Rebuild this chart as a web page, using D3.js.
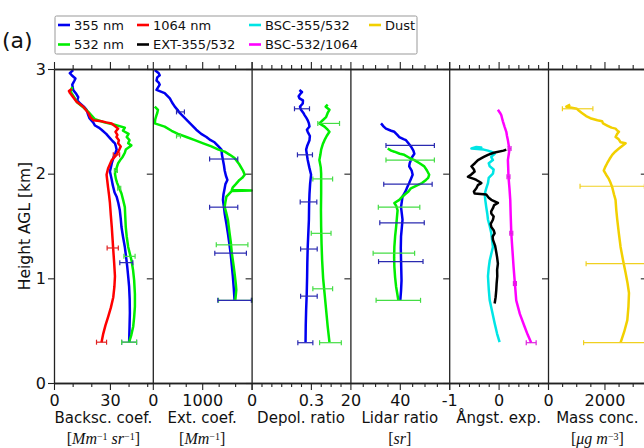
<!DOCTYPE html>
<html><head><meta charset="utf-8">
<script src="https://cdn.jsdelivr.net/npm/d3@7"></script>
<style>body{margin:0;background:#fff} svg{display:block}</style>
</head><body><svg id="c" width="644" height="448"></svg>
<script>
// ---------------- DATA: [height km, value] ----------------
const bsc355 = [[2.99,10.3],[2.96,8.5],[2.94,9.5],[2.91,11.5],[2.89,11],[2.85,9.8],[2.8,10.3],[2.76,12],[2.73,13],[2.70,12.5],[2.67,14],[2.64,16],[2.61,17.5],[2.57,18.2],[2.53,19],[2.49,21],[2.46,22],[2.44,24],[2.42,25.5],[2.38,28],[2.34,30],[2.31,31.5],[2.29,32.7],[2.26,33.2],[2.23,33.6],[2.2,33],[2.16,32],[2.13,31.5],[2.1,31],[2.06,30.5],[2.02,30],[1.98,30.5],[1.94,31],[1.9,31.4],[1.87,31.8],[1.82,32.5],[1.78,33.6],[1.72,34.5],[1.65,35.3],[1.57,35.8],[1.49,36.2],[1.4,37],[1.3,38],[1.2,38.7],[1.11,39.3],[1.0,39.9],[0.92,40.3],[0.8,40.6],[0.67,40.7],[0.52,40.5],[0.39,40.3]];
const bsc532 = [[2.83,9.8],[2.78,9],[2.73,10.8],[2.68,12.5],[2.63,16],[2.58,19],[2.52,22],[2.49,27],[2.47,32],[2.44,38],[2.41,37],[2.38,40],[2.35,39],[2.32,40.5],[2.29,39.8],[2.27,41.5],[2.25,40],[2.23,38.5],[2.2,38],[2.16,36.8],[2.13,35.5],[2.1,34.4],[2.05,33.5],[2.0,32.7],[1.95,33.2],[1.91,33.9],[1.86,35],[1.81,36.2],[1.74,37.2],[1.68,38],[1.6,38.2],[1.49,38.5],[1.4,39],[1.3,39.8],[1.17,41.6],[1.08,42.4],[0.98,43],[0.85,43.4],[0.73,43.4],[0.63,43],[0.54,42.5],[0.46,41.5],[0.39,40.3]];
const bsc1064 = [[2.81,9.5],[2.79,8],[2.77,8.6],[2.75,9.5],[2.73,10.3],[2.69,12],[2.64,15.7],[2.58,18.4],[2.54,19.5],[2.51,21],[2.5,25.5],[2.49,28],[2.48,30.9],[2.45,33],[2.43,34.4],[2.4,33],[2.37,34],[2.35,33.5],[2.32,34.8],[2.29,34.4],[2.26,35.8],[2.24,35.3],[2.21,34.5],[2.18,33.5],[2.13,31],[2.09,30],[2.05,29],[1.99,28.2],[1.93,28.6],[1.87,29],[1.8,29.5],[1.72,30],[1.6,30.5],[1.49,31],[1.38,31.4],[1.27,31.8],[1.14,32.3],[1.02,32.7],[0.92,32.4],[0.82,31.8],[0.72,30.5],[0.63,29],[0.55,27.6],[0.47,26.4],[0.39,25.5]];
// error bars: [height, centre, half-width]
const bscErr355 = [[1.15,38.8,3.5],[0.39,40.3,4]];
const bscErr532 = [[2.03,33.2,0.8],[1.86,35,0.8],[1.21,40.5,3],[0.39,40.3,4]];
const bscErr1064 = [[2.18,33.5,1.7],[1.29,31.5,3],[0.39,25.5,2.7]];

const ext355 = [[2.99,40],[2.96,120],[2.94,140],[2.92,90],[2.89,75],[2.87,120],[2.85,140],[2.82,100],[2.8,75],[2.77,240],[2.72,345],[2.68,390],[2.64,445],[2.61,500],[2.58,545],[2.54,630],[2.5,715],[2.46,800],[2.42,880],[2.38,980],[2.35,1085],[2.32,1170],[2.3,1250],[2.26,1330],[2.23,1390],[2.18,1400],[2.13,1420],[2.08,1440],[2.03,1455],[1.98,1480],[1.94,1510],[1.9,1470],[1.86,1455],[1.8,1430],[1.75,1420],[1.68,1440],[1.62,1455],[1.52,1490],[1.43,1520],[1.33,1550],[1.24,1575],[1.12,1600],[1.02,1620],[0.9,1640],[0.79,1655]];
const ext532 = [[2.64,40],[2.61,105],[2.58,90],[2.56,75],[2.52,50],[2.48,40],[2.45,240],[2.41,380],[2.38,510],[2.35,680],[2.32,850],[2.29,1020],[2.26,1185],[2.23,1330],[2.21,1455],[2.18,1560],[2.15,1655],[2.09,1750],[2.03,1825],[1.99,1860],[1.96,1810],[1.94,1755],[1.9,1680],[1.87,1620],[1.845,1600],[1.84,2000],[1.835,1600],[1.8,1530],[1.78,1490],[1.73,1470],[1.68,1455],[1.62,1490],[1.56,1520],[1.43,1555],[1.34,1580],[1.24,1600],[1.14,1630],[1.05,1655],[0.95,1680],[0.89,1690],[0.79,1670]];
const extErr355 = [[2.59,560,80],[2.14,1435,285],[1.68,1435,285],[1.24,1575,320],[0.79,1655,340]];
const extErr532 = [[2.36,520,40],[1.32,1605,320],[0.79,1670,340]];

const depol355 = [[2.8,0.242],[2.78,0.255],[2.77,0.25],[2.74,0.238],[2.72,0.242],[2.7,0.26],[2.67,0.259],[2.64,0.245],[2.61,0.25],[2.58,0.262],[2.56,0.268],[2.53,0.278],[2.51,0.284],[2.48,0.29],[2.45,0.293],[2.42,0.28],[2.4,0.284],[2.36,0.295],[2.32,0.293],[2.27,0.282],[2.23,0.276],[2.18,0.28],[2.13,0.284],[2.06,0.292],[1.99,0.301],[1.9,0.296],[1.81,0.293],[1.7,0.291],[1.56,0.29],[1.43,0.287],[1.3,0.284],[1.15,0.282],[1.02,0.281],[0.85,0.279],[0.7,0.276],[0.55,0.274],[0.39,0.273]];
const depol532 = [[2.66,0.385],[2.64,0.375],[2.61,0.394],[2.58,0.385],[2.54,0.377],[2.51,0.36],[2.48,0.343],[2.45,0.369],[2.42,0.385],[2.4,0.394],[2.36,0.38],[2.32,0.369],[2.28,0.36],[2.23,0.352],[2.18,0.348],[2.13,0.343],[2.06,0.35],[2.0,0.352],[1.9,0.352],[1.81,0.352],[1.65,0.351],[1.49,0.352],[1.33,0.354],[1.17,0.357],[1.0,0.362],[0.86,0.369],[0.7,0.377],[0.54,0.385],[0.39,0.394]];
const depolErr355 = [[2.62,0.255,0.038],[2.18,0.27,0.038],[1.73,0.288,0.042],[1.28,0.29,0.042],[0.83,0.29,0.042],[0.385,0.272,0.038]];
const depolErr532 = [[2.48,0.39,0.055],[1.95,0.36,0.05],[1.43,0.352,0.05],[0.9,0.36,0.05],[0.385,0.399,0.055]];

const lidar355 = [[2.48,32.4],[2.45,33.5],[2.43,34.4],[2.41,36.5],[2.4,37.8],[2.37,39],[2.35,39.8],[2.33,41.5],[2.32,42.5],[2.29,43.5],[2.26,44.5],[2.22,45.5],[2.19,45.9],[2.16,45],[2.13,44.5],[2.1,44],[2.07,43.8],[2.03,44.8],[1.99,45.2],[1.95,44.5],[1.91,43.8],[1.87,43],[1.84,42.5],[1.81,41.8],[1.78,41.1],[1.73,40.8],[1.68,40.5],[1.62,40.8],[1.56,41.1],[1.48,40.8],[1.4,40.5],[1.29,40.4],[1.18,40.5],[1.08,40.6],[0.98,40.7],[0.88,40.5],[0.79,40.2]];
const lidar532 = [[2.24,35.1],[2.22,36.5],[2.21,37.8],[2.19,40],[2.18,41.8],[2.15,44],[2.13,45.9],[2.1,48],[2.07,49.9],[2.03,51],[1.99,51.9],[1.96,51.5],[1.94,50.6],[1.91,49],[1.89,47.2],[1.86,44.5],[1.83,43.5],[1.81,42.5],[1.78,41],[1.75,39.8],[1.72,37.8],[1.69,38.6],[1.65,39.1],[1.57,38.8],[1.49,38.5],[1.4,38.1],[1.3,37.8],[1.2,37.7],[1.11,37.8],[1.01,38.1],[0.92,38.5],[0.85,39],[0.79,39.4]];
const lidarErr355 = [[2.27,44.2,9.8],[1.9,43.3,9.8],[1.53,40.9,9],[1.16,40.4,9]];
const lidarErr532 = [[2.13,44.2,9.8],[1.68,39.7,8.4],[1.24,37.6,8.4],[0.79,39.4,9]];

const angExt = [[2.23,0.156],[2.22,0.1],[2.2,-0.1],[2.18,-0.215],[2.16,-0.3],[2.13,-0.418],[2.1,-0.48],[2.07,-0.55],[2.04,-0.5],[2.02,-0.485],[1.99,-0.56],[1.97,-0.62],[1.95,-0.5],[1.94,-0.45],[1.92,-0.38],[1.91,-0.35],[1.89,-0.42],[1.86,-0.45],[1.83,-0.5],[1.81,-0.485],[1.8,-0.25],[1.77,-0.2],[1.75,-0.148],[1.73,-0.06],[1.72,-0.014],[1.7,-0.09],[1.67,-0.115],[1.64,-0.15],[1.62,-0.148],[1.59,-0.1],[1.56,-0.115],[1.52,-0.16],[1.49,-0.148],[1.46,-0.1],[1.43,-0.08],[1.4,-0.12],[1.37,-0.115],[1.31,-0.07],[1.25,-0.047],[1.2,-0.03],[1.14,-0.014],[1.08,-0.03],[1.02,-0.027],[0.95,-0.04],[0.89,-0.047],[0.82,-0.06],[0.76,-0.08]];
const angBsc355 = [[2.24,-0.52],[2.245,-0.4],[2.25,-0.35],[2.255,-0.45],[2.24,-0.55],[2.23,-0.3],[2.22,-0.215],[2.21,-0.15],[2.19,-0.08],[2.16,-0.15],[2.13,-0.115],[2.1,-0.2],[2.07,-0.18],[2.04,-0.1],[2.0,-0.115],[1.96,-0.2],[1.91,-0.215],[1.86,-0.25],[1.81,-0.28],[1.75,-0.27],[1.68,-0.25],[1.62,-0.23],[1.56,-0.215],[1.5,-0.18],[1.43,-0.148],[1.36,-0.13],[1.3,-0.115],[1.23,-0.15],[1.17,-0.18],[1.1,-0.2],[1.02,-0.215],[0.9,-0.2],[0.79,-0.18],[0.68,-0.13],[0.57,-0.08],[0.47,-0.03],[0.39,0.02]];
const angBsc532 = [[2.61,-0.014],[2.58,0.03],[2.56,0.054],[2.53,0.07],[2.5,0.087],[2.45,0.12],[2.4,0.156],[2.36,0.17],[2.32,0.188],[2.27,0.205],[2.24,0.222],[2.2,0.21],[2.13,0.188],[2.05,0.195],[1.97,0.2],[1.86,0.22],[1.75,0.236],[1.6,0.245],[1.43,0.257],[1.27,0.28],[1.11,0.303],[0.95,0.33],[0.79,0.357],[0.66,0.43],[0.54,0.525],[0.46,0.59],[0.385,0.66]];
const angErr532 = [[2.24,0.222,0.03],[1.97,0.2,0.03],[1.43,0.257,0.03],[0.95,0.33,0.03],[0.385,0.66,0.1]];

const dust = [[2.66,786],[2.64,650],[2.62,1025],[2.6,1100],[2.58,1200],[2.55,1350],[2.53,1500],[2.51,1750],[2.5,1918],[2.48,1950],[2.46,2096],[2.44,2250],[2.43,2393],[2.41,2460],[2.4,2512],[2.38,2450],[2.35,2393],[2.33,2500],[2.3,2571],[2.29,2750],[2.27,2650],[2.24,2512],[2.21,2380],[2.18,2275],[2.14,2180],[2.1,2096],[2.06,2020],[2.03,1976],[1.99,2060],[1.95,2155],[1.91,2220],[1.87,2275],[1.8,2340],[1.75,2393],[1.65,2420],[1.56,2453],[1.43,2510],[1.3,2571],[1.17,2660],[1.05,2750],[0.95,2820],[0.86,2869],[0.73,2850],[0.6,2810],[0.49,2700],[0.385,2571]];
const dustErr = [[2.62,1050,540],[1.88,2275,1140],[1.14,2700,1350],[0.385,2571,1310]];

// tick values / labels
const yTicks = [0,1,2,3];
const xMajor = [[0,30],[0,1000,2000],[0,0.3],[20,40,60],[-1,0,1],[0,2000]];
const xMinor = [[10,20,40,50],[333.3,666.7,1333.3,1666.7],[0.05,0.1,0.15,0.2,0.25,0.35,0.4,0.45],[25,30,35,45,50,55],[-0.8,-0.6,-0.4,-0.2,0.2,0.4,0.6,0.8],[500,1000,1500,2500,3000]];
const xLabels = [["0","30"],["0","1000"],["0","0.3"],["20","40"],["-1","0"],["0","2000"]];
const xDomains = [[0,53],[0,2000],[0,0.5],[20,60],[-1,1],[0,3500]];
const xTitles = ["Backsc. coef.","Ext. coef.","Depol. ratio","Lidar ratio","Ångst. exp.","Mass conc."];

// ---------------- LAYOUT ----------------
const svg = d3.select('#c');
const L0 = 54, W = 98.8, yTop = 69, yBot = 383;
const y = d3.scaleLinear().domain([0,3]).range([yBot, yTop]);
const C = {b:'#0000f0', g:'#00ee00', r:'#ff0000', k:'#000000', c:'#00e5e5', m:'#ff00ff', d:'#f2d000'};
const CE = {b:'#2a2ab0', g:'#44dd44', r:'#e02020', m:'#dd22dd', d:'#f0d020'};

const panels = [
  {lines:[[bsc355,C.b],[bsc532,C.g],[bsc1064,C.r]], errs:[[bscErr355,CE.b],[bscErr532,CE.g],[bscErr1064,CE.r]],
   unit:[["[",0],["Mm",1],["−1",2],[" sr",1],["−1",2],["]",0]]},
  {lines:[[ext355,C.b],[ext532,C.g]], errs:[[extErr532,CE.g],[extErr355,CE.b]], unit:[["[",0],["Mm",1],["−1",2],["]",0]]},
  {lines:[[depol355,C.b],[depol532,C.g]], errs:[[depolErr355,CE.b],[depolErr532,CE.g]], unit:null},
  {lines:[[lidar355,C.b],[lidar532,C.g]], errs:[[lidarErr355,CE.b],[lidarErr532,CE.g]], unit:[["[",0],["sr",1],["]",0]]},
  {lines:[[angBsc355,C.c],[angExt,C.k],[angBsc532,C.m]], errs:[[angErr532,CE.m]], unit:null},
  {lines:[[dust,C.d]], errs:[[dustErr,CE.d]], unit:[["[",0],["μg m",1],["−3",2],["]",0]]}
];

const axisCol = '#222';
function styleAxis(g){
  g.selectAll('path.domain').attr('stroke', axisCol).attr('stroke-width',1.3);
  g.selectAll('.tick line').attr('stroke', axisCol).attr('stroke-width',1.1);
  g.selectAll('.tick text').attr('fill','#111').style('font-family','DejaVu Sans').style('font-size','16px');
}

panels.forEach((p,i)=>{
  const L = L0 + i*W;
  const x = d3.scaleLinear().domain(xDomains[i]).range([L, L+W]);
  const g = svg.append('g');
  p.lines.forEach(([data,col])=>{
    g.append('path').datum(data)
      .attr('d', d3.line().x(d=>x(d[1])).y(d=>y(d[0])))
      .attr('fill','none').attr('stroke',col).attr('stroke-width',2.5)
      .attr('stroke-linejoin','round');
  });
  p.errs.forEach(([data,col])=>{
    const eg = g.append('g').attr('stroke',col).attr('stroke-width',1.2);
    data.forEach(d=>{
      const yy = y(d[0]), x1 = x(d[1]-d[2]), x2 = x(d[1]+d[2]);
      eg.append('line').attr('x1',x1).attr('x2',x2).attr('y1',yy).attr('y2',yy);
      eg.append('line').attr('x1',x1).attr('x2',x1).attr('y1',yy-2.5).attr('y2',yy+2.5);
      eg.append('line').attr('x1',x2).attr('x2',x2).attr('y1',yy-2.5).attr('y2',yy+2.5);
    });
  });
  const bMinor = svg.append('g').attr('transform',`translate(0,${yBot})`)
    .call(d3.axisBottom(x).tickValues(xMinor[i]).tickSize(4).tickSizeOuter(0).tickFormat(''));
  const bMajor = svg.append('g').attr('transform',`translate(0,${yBot})`)
    .call(d3.axisBottom(x).tickValues(xMajor[i]).tickSize(7).tickPadding(5).tickSizeOuter(0)
      .tickFormat((d,k)=> xLabels[i][k] !== undefined ? xLabels[i][k] : ''));
  const tMinor = svg.append('g').attr('transform',`translate(0,${yTop})`)
    .call(d3.axisTop(x).tickValues(xMinor[i]).tickSize(4).tickSizeOuter(0).tickFormat(''));
  const tMajor = svg.append('g').attr('transform',`translate(0,${yTop})`)
    .call(d3.axisTop(x).tickValues(xMajor[i]).tickSize(7).tickSizeOuter(0).tickFormat(''));
  const left = svg.append('g').attr('transform',`translate(${L},0)`)
    .call(d3.axisLeft(y).tickValues(yTicks).tickSize(6).tickPadding(2).tickSizeOuter(0)
      .tickFormat(i===0 ? d3.format('d') : ''));
  [bMinor,bMajor,tMinor,tMajor,left].forEach(styleAxis);
  const cx = L + W/2;
  svg.append('text').attr('x',cx).attr('y',423).attr('text-anchor','middle')
    .style('font-family','DejaVu Sans').style('font-size','15px').attr('fill','#111').text(xTitles[i]);
  if(p.unit){
    const t = svg.append('text').attr('x',cx).attr('y',444).attr('text-anchor','middle')
      .style('font-family','Liberation Serif').style('font-size','16px').attr('fill','#111');
    let up = false;
    p.unit.forEach(([s,kind])=>{
      const ts = t.append('tspan').text(s);
      if(kind===1) ts.style('font-style','italic');
      if(kind===2){ ts.style('font-size','10px').attr('dy', -4.5); up = true; }
      else if(up){ ts.attr('dy', 4.5); up = false; }
    });
  }
});

// stub of next (cropped) panel: left spine with outward ticks
const xNext = L0 + 6*W;
const stub = svg.append('g').attr('transform',`translate(${xNext},0)`)
  .call(d3.axisLeft(y).tickValues(yTicks).tickSize(6).tickSizeOuter(0).tickFormat(''));
styleAxis(stub);

svg.append('text').attr('transform','translate(30,226) rotate(-90)').attr('text-anchor','middle')
  .style('font-family','DejaVu Sans').style('font-size','15.5px').attr('fill','#111').text('Height AGL [km]');

svg.append('text').attr('x',2).attr('y',48).style('font-family','DejaVu Sans').style('font-size','22px')
  .attr('fill','#111').text('(a)');

// legend
const legendNames = ["355 nm","532 nm","1064 nm","EXT-355/532","BSC-355/532","BSC-532/1064","Dust"];
const legendColors = [C.b,C.g,C.r,C.k,C.c,C.m,C.d];
const legendCols = [57,136,248,368];
const lg = svg.append('g');
lg.append('rect').attr('x',55).attr('y',16).attr('width',362).attr('height',38)
  .attr('fill','#fff').attr('stroke','#999').attr('stroke-width',1).attr('rx',1.5);
legendNames.forEach((n,k)=>{
  const col = Math.floor(k/2), row = k%2;
  const lx = legendCols[col], ly = 25 + row*19.5;
  lg.append('line').attr('x1',lx+1).attr('x2',lx+13).attr('y1',ly).attr('y2',ly)
    .attr('stroke',legendColors[k]).attr('stroke-width',2.6);
  lg.append('text').attr('x',lx+17).attr('y',ly+4.7).style('font-family','DejaVu Sans')
    .style('font-size','13px').attr('fill','#111').text(n);
});
</script></body></html>
